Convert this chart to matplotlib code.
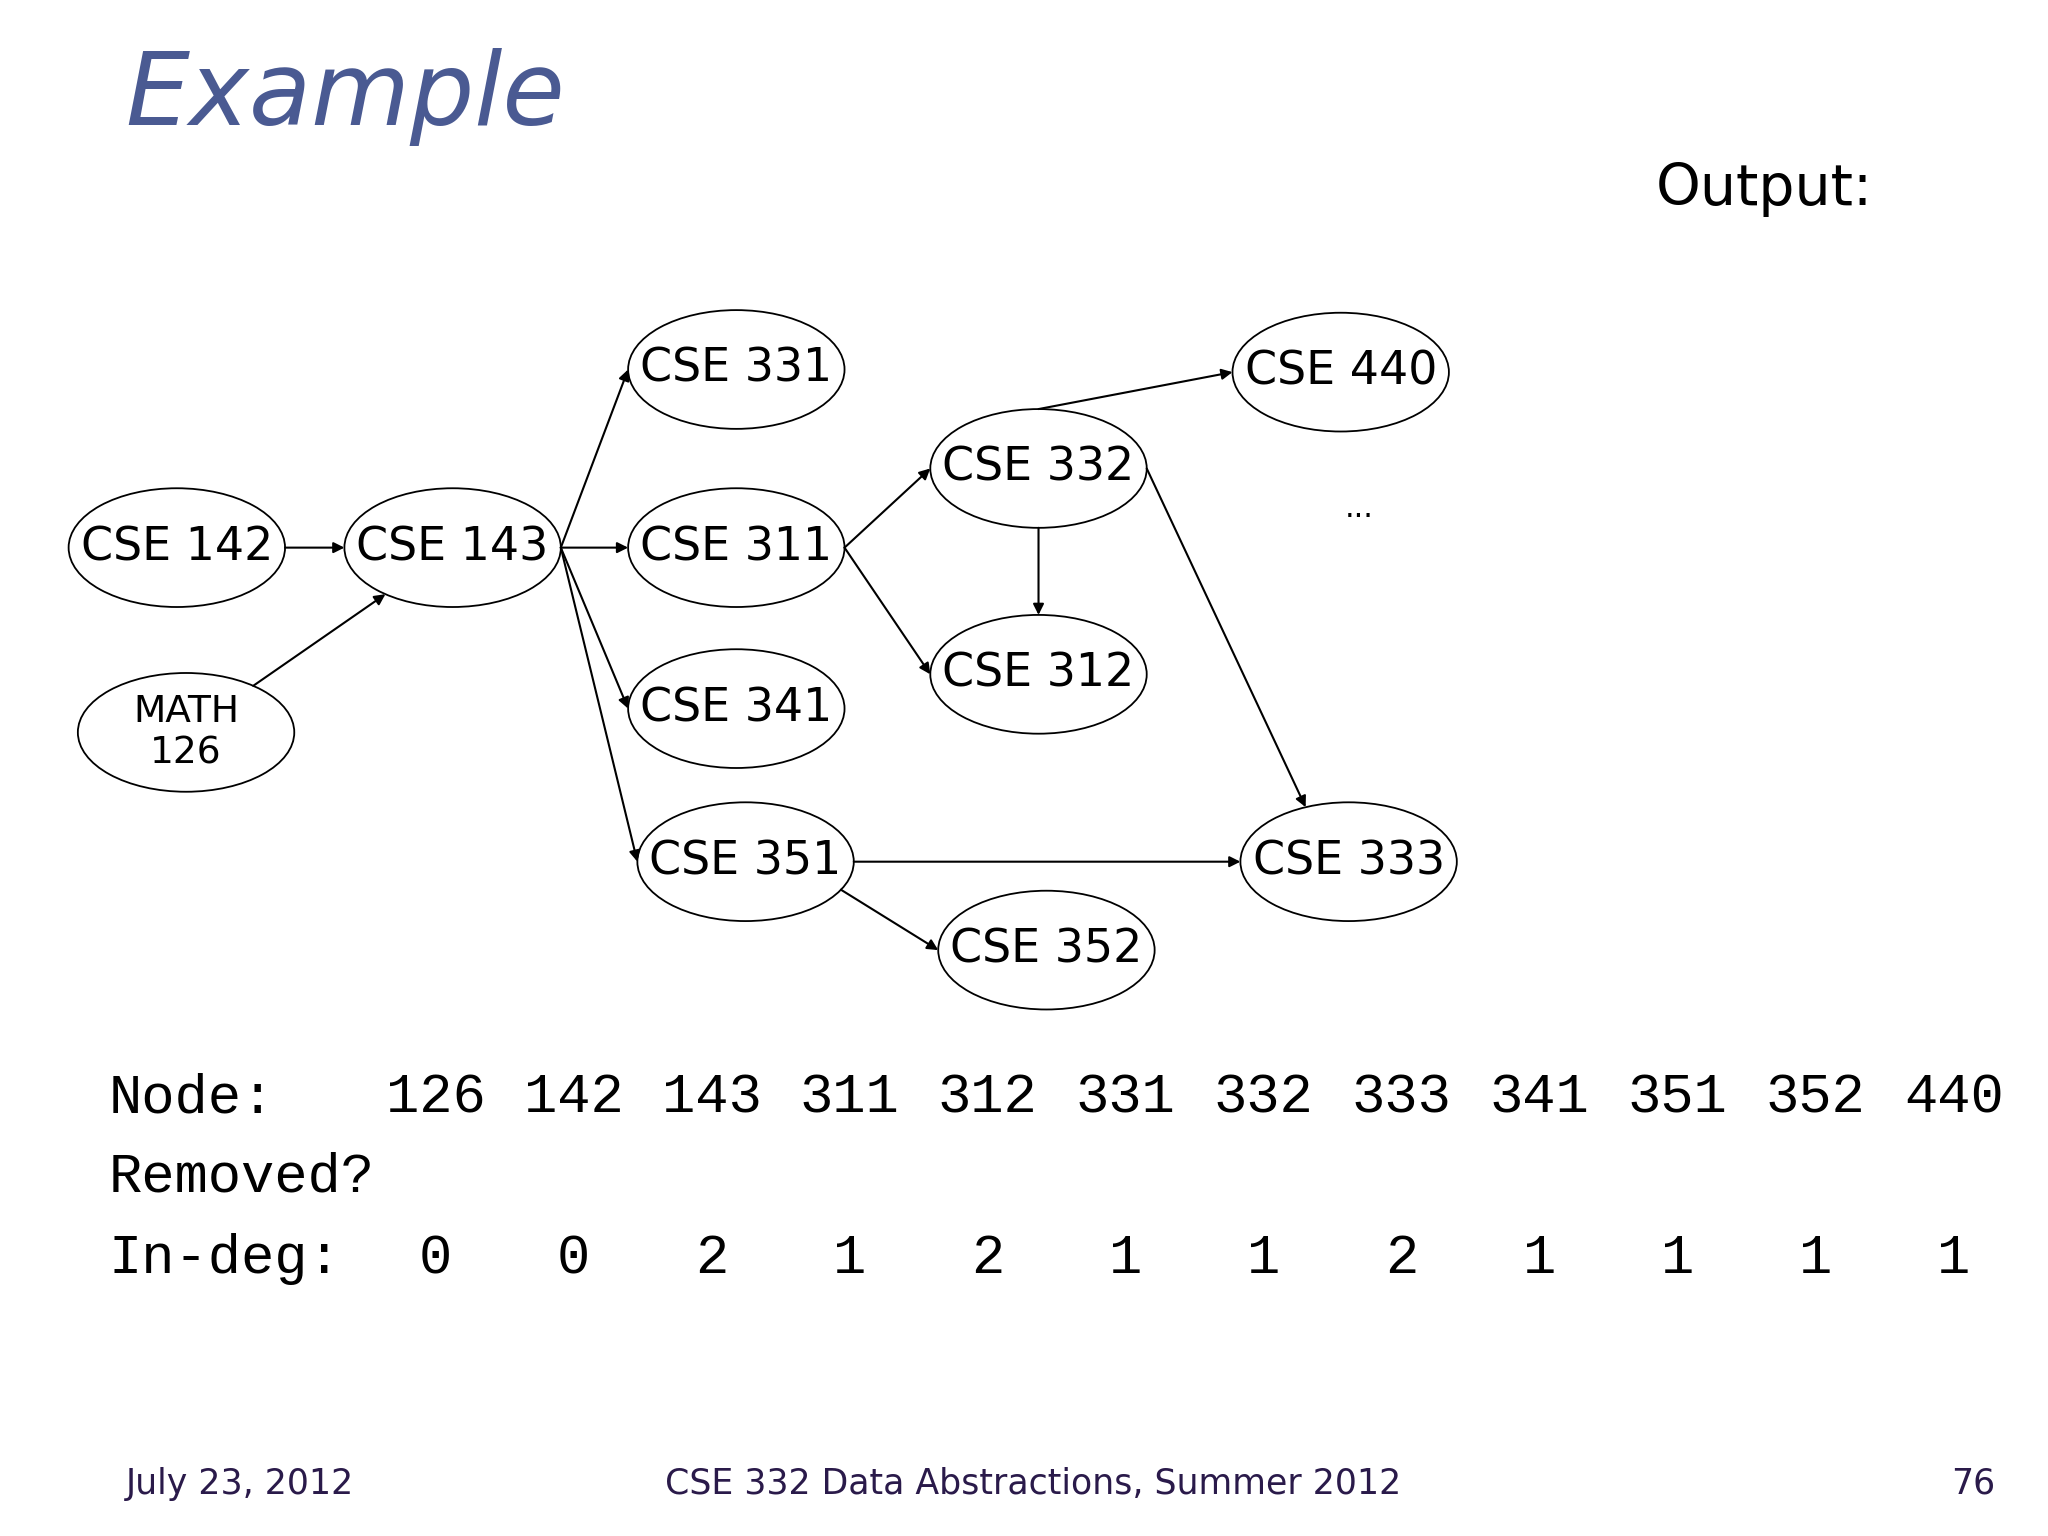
import matplotlib
matplotlib.use("Agg")
import matplotlib.pyplot as plt
from matplotlib.patches import Ellipse
import numpy as np

node_names = ["CSE 142", "CSE 143", "MATH\n126", "CSE 331", "CSE 311", "CSE 341",
              "CSE 351", "CSE 332", "CSE 312", "CSE 440", "CSE 333", "CSE 352"]
node_x = [134, 343, 141, 558, 558, 558, 565, 787, 787, 1016, 1022, 793]
node_y = [415, 415, 555, 280, 415, 537, 653, 355, 511, 282, 653, 720]
edges = [("CSE 142", "CSE 143"), ("MATH\n126", "CSE 143"), ("CSE 143", "CSE 331"),
         ("CSE 143", "CSE 311"), ("CSE 143", "CSE 341"), ("CSE 143", "CSE 351"),
         ("CSE 311", "CSE 332"), ("CSE 311", "CSE 312"), ("CSE 332", "CSE 312"),
         ("CSE 332", "CSE 440"), ("CSE 332", "CSE 333"), ("CSE 351", "CSE 333"),
         ("CSE 351", "CSE 352")]
edge_ports = [("r", "l"), ("auto", "auto"), ("r", "l"), ("r", "l"), ("r", "l"), ("r", "l"),
              ("r", "l"), ("r", "l"), ("b", "t"), ("t", "l"), ("r", "auto"), ("r", "l"),
              ("auto", "l")]
table_nodes = ["126", "142", "143", "311", "312", "331", "332", "333", "341", "351", "352", "440"]
in_deg = [0, 0, 2, 1, 2, 1, 1, 2, 1, 1, 1, 1]

W, H = 1552, 1164
fig = plt.figure(figsize=(20.48, 15.36), dpi=100)
ax = fig.add_axes([0, 0, 1, 1])
ax.set_xlim(0, W); ax.set_ylim(H, 0); ax.axis("off")

A, B = 82, 45
pos = {n: (x, y) for n, x, y in zip(node_names, node_x, node_y)}
for n, (x, y) in pos.items():
    ax.add_patch(Ellipse((x, y), 2 * A, 2 * B, fill=False, lw=1.3, ec="black"))
    if "\n" in n:
        ax.text(x, y, n, ha="center", va="center", fontsize=27, linespacing=1.2)
    else:
        ax.text(x, y, n, ha="center", va="center", fontsize=33)

def port(c, other, p):
    c = np.array(c, float); o = np.array(other, float)
    if p == "r": return (c[0] + A, c[1])
    if p == "l": return (c[0] - A, c[1])
    if p == "t": return (c[0], c[1] - B)
    if p == "b": return (c[0], c[1] + B)
    d = o - c
    t = 1 / np.sqrt((d[0] / A) ** 2 + (d[1] / B) ** 2)
    return (c[0] + d[0] * t, c[1] + d[1] * t)

for (s, t), (ps_, pt_) in zip(edges, edge_ports):
    ps = port(pos[s], pos[t], ps_)
    qs = port(pos[t], pos[s], pt_)
    ax.annotate("", xy=qs, xytext=ps,
                arrowprops=dict(arrowstyle="-|>", color="black", lw=1.5,
                                mutation_scale=16, shrinkA=0, shrinkB=0))

ax.text(95, 95, "Example", fontsize=73, style="italic", color="#4a5a92", va="baseline")
ax.text(1255, 155, "Output:", fontsize=41, va="baseline")
ax.text(1030, 392, "...", fontsize=22, ha="center")

mono = "Liberation Mono"
ax.text(82, 843, "Node:", family=mono, fontsize=40, va="baseline")
ax.text(82, 903, "Removed?", family=mono, fontsize=40, va="baseline")
ax.text(82, 965, "In-deg:", family=mono, fontsize=40, va="baseline")
for i, (n, d) in enumerate(zip(table_nodes, in_deg)):
    x = 330 + i * 104.6
    ax.text(x, 843, n, family=mono, fontsize=40, ha="center", va="baseline")
    ax.text(x, 965, str(d), family=mono, fontsize=40, ha="center", va="baseline")

fc = "#2a1a4a"
ax.text(95, 1132, "July 23, 2012", fontsize=25, color=fc, va="baseline")
ax.text(783, 1132, "CSE 332 Data Abstractions, Summer 2012", fontsize=25, color=fc,
        ha="center", va="baseline")
ax.text(1512, 1132, "76", fontsize=25, color=fc, ha="right", va="baseline")

fig.savefig("out.png", dpi=100, facecolor="white")
